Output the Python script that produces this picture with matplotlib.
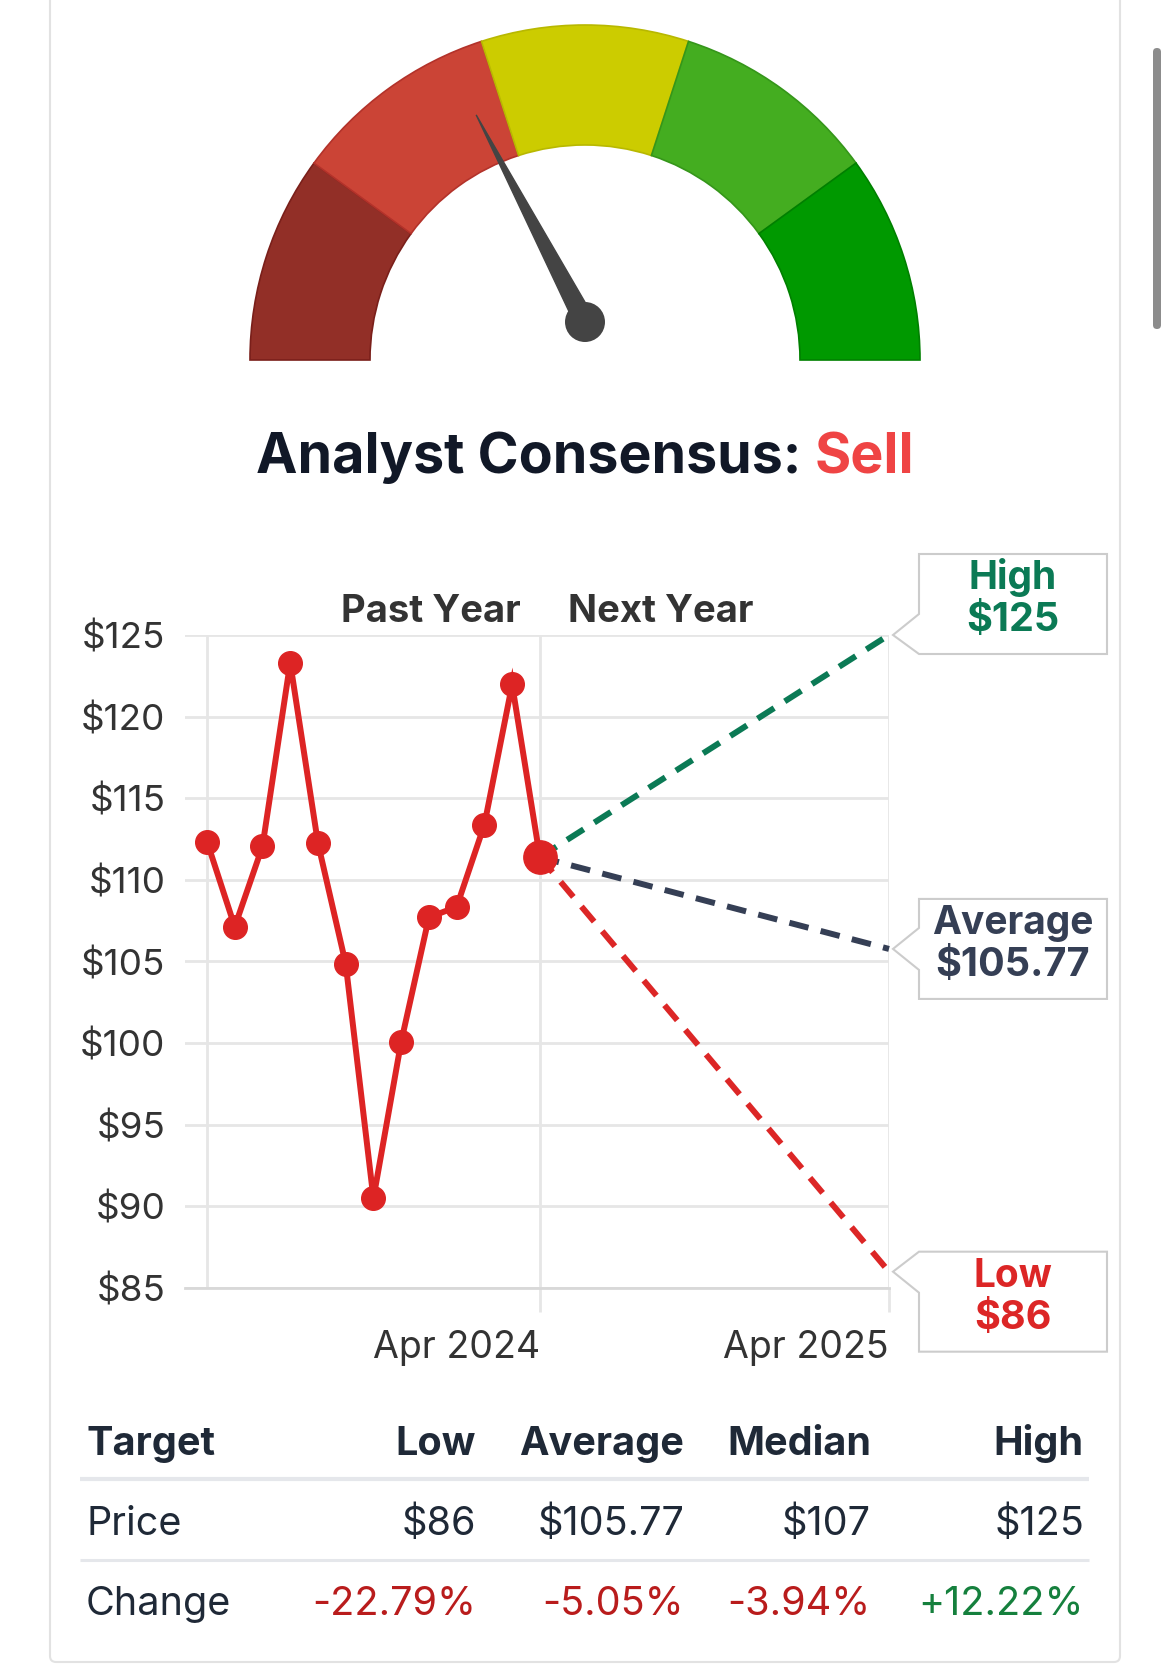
import matplotlib
matplotlib.use("Agg")
import matplotlib.pyplot as plt
import matplotlib.dates as mdates
from matplotlib.patches import Wedge, Polygon, Circle, FancyBboxPatch
import numpy as np
import pandas as pd

plt.rcParams['font.family'] = ['Inter', 'DejaVu Sans']

# ---- data ----
past_dates = ["2023-04-30", "2023-05-29", "2023-06-27", "2023-07-26", "2023-08-24",
              "2023-09-22", "2023-10-21", "2023-11-19", "2023-12-18", "2024-01-16",
              "2024-02-14", "2024-03-14", "2024-04-12"]
past_prices = [112.35, 107.13, 112.05, 123.30, 112.25, 104.86, 90.50,
               100.08, 107.70, 108.35, 113.38, 121.97, 111.39]
target_date = "2025-04-12"
target_names = ["High", "Average", "Low"]
target_prices = [125, 105.77, 86]
target_labels = ["$125", "$105.77", "$86"]
target_colors = ["#0b7a55", "#353f55", "#dc2626"]

y_ticks = [85, 90, 95, 100, 105, 110, 115, 120, 125]
y_tick_labels = ["$85", "$90", "$95", "$100", "$105", "$110", "$115", "$120", "$125"]
x_tick_dates = ["2024-04-12", "2025-04-12"]
x_tick_labels = ["Apr 2024", "Apr 2025"]

gauge_colors = ["#922f27", "#cb4436", "#cccc00", "#44ad20", "#009900"]
gauge_edges = ["#7a1f1a", "#b3322a", "#b8b800", "#35961a", "#008000"]
gauge_needle = 0.346  # position along the dial, 0 = far left, 1 = far right
consensus = "Sell"

table_header = ["Target", "Low", "Average", "Median", "High"]
table_price = ["Price", "$86", "$105.77", "$107", "$125"]
table_change = ["Change", "-22.79%", "-5.05%", "-3.94%", "+12.22%"]
change_colors = ["#1f2937", "#b91c1c", "#b91c1c", "#b91c1c", "#15803d"]

W, H = 1170, 1667
fig = plt.figure(figsize=(W / 100, H / 100), dpi=100)

# background axes in pixel units (y up)
bg = fig.add_axes([0, 0, 1, 1])
bg.set_xlim(0, W)
bg.set_ylim(0, H)
bg.axis("off")

def fy(y):
    return H - y

# card and scrollbar
bg.add_patch(FancyBboxPatch((50, fy(1662)), 1070, 1700, boxstyle="round,pad=0,rounding_size=6",
                            facecolor="white", edgecolor="#e2e2e2", lw=1.5))
bg.add_patch(FancyBboxPatch((1153, fy(329)), 8, 281, boxstyle="round,pad=0,rounding_size=4",
                            facecolor="#8c8c8c", edgecolor="none"))

# ---- gauge ----
gc = (585, fy(360))
for i, (c, ec) in enumerate(zip(gauge_colors, gauge_edges)):
    t2 = 180 - 36 * i
    t1 = t2 - 36
    bg.add_patch(Wedge(gc, 335, t1, t2, width=120, facecolor=c, edgecolor=ec, lw=1.2))

ang = np.radians(180 * (1 - gauge_needle))
piv = np.array([585, fy(322)])
d = np.array([np.cos(ang), np.sin(ang)])
perp = np.array([-d[1], d[0]])
tip = piv + 234 * d
bg.add_patch(Polygon([piv + 10 * perp, tip, piv - 10 * perp], closed=True,
                     facecolor="#444444", edgecolor="#444444", lw=1))
bg.add_patch(Circle(piv, 20, facecolor="#444444", edgecolor="none"))

# ---- title ----
t1 = bg.text(0, fy(473), "Analyst Consensus: ", fontsize=40, fontweight="bold",
             color="#111827", ha="left", va="baseline")
t2 = bg.text(0, fy(473), consensus, fontsize=40, fontweight="bold",
             color="#ef4444", ha="left", va="baseline")
fig.canvas.draw()
r = fig.canvas.get_renderer()
w1 = t1.get_window_extent(r).width
w2 = t2.get_window_extent(r).width
x0 = 585 - (w1 + w2) / 2
t1.set_x(x0)
t2.set_x(x0 + w1)

# ---- price chart ----
ax = fig.add_axes([185 / W, 1 - 1288 / H, 704 / W, 653 / H])
ax.set_facecolor("none")
pd_dates = pd.to_datetime(past_dates)
end = pd.to_datetime(target_date)
cur = pd_dates[-1]
ax.set_xlim(mdates.date2num(pd_dates[0]) - 23, mdates.date2num(end))
ax.set_ylim(85, 125)

for v, c in zip(target_prices, target_colors):
    ax.plot([cur, end], [past_prices[-1], v], color=c, lw=4.3, dashes=(3.3, 2.1),
            dash_capstyle="butt", zorder=4, clip_on=False)

ax.plot(pd_dates, past_prices, color="#dd2424", lw=4.3, marker="o", ms=17,
        solid_joinstyle="miter", zorder=5, clip_on=False)
ax.plot([cur], [past_prices[-1]], color="#dd2424", marker="o", ms=24, zorder=6, clip_on=False)

ax.set_yticks(y_ticks)
ax.set_yticklabels(y_tick_labels)
ax.set_xticks(pd.to_datetime(x_tick_dates))
ax.set_xticklabels(x_tick_labels)
for lab in ax.get_xticklabels():
    lab.set_ha("right")
ax.tick_params(axis="y", length=0, pad=14, labelsize=26.5, labelcolor="#333333")
ax.tick_params(axis="x", length=17, width=2, color="#e6e6e6", pad=13.5, labelsize=27,
               labelcolor="#333333")
ax.grid(True, color="#e6e6e6", lw=2)
ax.axvline(pd_dates[0], color="#e6e6e6", lw=2)
ax.set_axisbelow(True)
for s in ["top", "right", "left"]:
    ax.spines[s].set_visible(False)
ax.spines["bottom"].set_color("#d8d8d8")
ax.spines["bottom"].set_linewidth(2)

ax.text(0.349, 1.008, "Past Year", transform=ax.transAxes, ha="center", va="bottom",
        fontsize=27.5, fontweight="bold", color="#333333")
ax.text(0.676, 1.008, "Next Year", transform=ax.transAxes, ha="center", va="bottom",
        fontsize=27.5, fontweight="bold", color="#333333")

# ---- callouts ----
box_shift = [31, 0, -30]
for name, lab, v, c, sh in zip(target_names, target_labels, target_prices, target_colors, box_shift):
    tx, ty = ax.transData.transform((mdates.date2num(end), v))
    tx += 4
    bl, bw, bh = tx + 26, 188, 100
    cy = ty + sh
    top, bot = cy + bh / 2, cy - bh / 2
    j_up = min(ty + 21, top)
    j_lo = max(ty - 21, bot)
    pts = [(bl, top), (bl + bw, top), (bl + bw, bot), (bl, bot), (bl, j_lo), (tx, ty), (bl, j_up)]
    bg.add_patch(Polygon(pts, closed=True, facecolor="white", edgecolor="#cccccc", lw=1.5, zorder=3))
    bg.text(bl + bw / 2, cy + 15, name, ha="center", va="baseline", fontsize=28,
            fontweight="bold", color=c, zorder=4)
    bg.text(bl + bw / 2, cy - 27, lab, ha="center", va="baseline", fontsize=28.5,
            fontweight="bold", color=c, zorder=4)

# ---- table ----
col_right = [None, 476, 684, 871, 1084]
rows = [(table_header, 1455, "bold", ["#1f2937"] * 5),
        (table_price, 1535, "normal", ["#1f2937"] * 5),
        (table_change, 1615, "normal", change_colors)]
for cells, base, wt, cols in rows:
    for j, (txt, col) in enumerate(zip(cells, cols)):
        if j == 0:
            bg.text(86, fy(base), txt, ha="left", va="baseline", fontsize=28.5,
                    fontweight=wt, color=col)
        else:
            bg.text(col_right[j], fy(base), txt, ha="right", va="baseline", fontsize=28.5,
                    fontweight=wt, color=col)
bg.plot([80, 1089], [fy(1479), fy(1479)], color="#e5e7eb", lw=3, solid_capstyle="butt")
bg.plot([80, 1089], [fy(1560), fy(1560)], color="#e5e7eb", lw=2.2, solid_capstyle="butt")

fig.savefig("out.png", dpi=100)
